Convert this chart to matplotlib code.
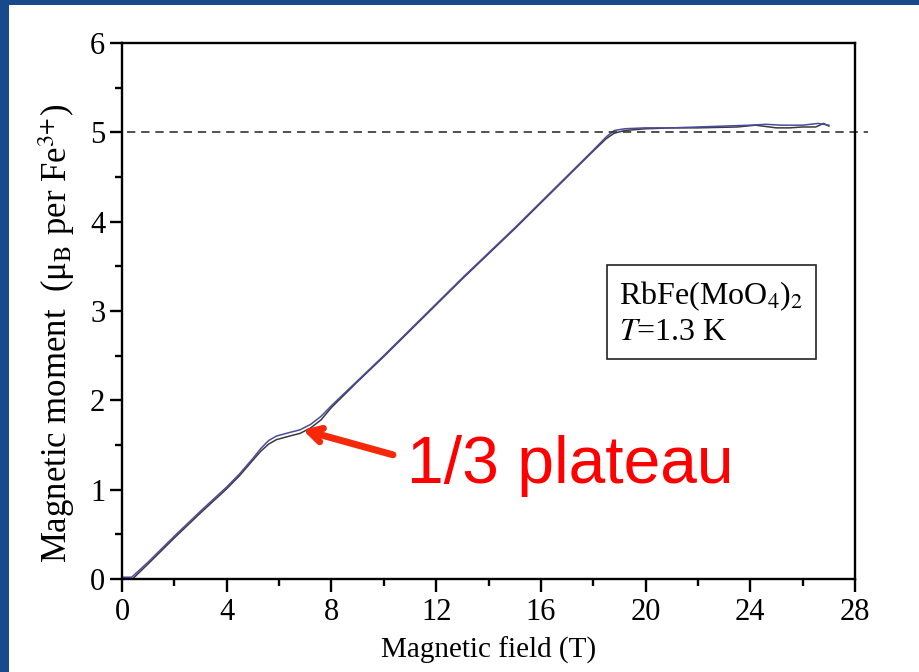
import matplotlib
matplotlib.use("Agg")
import matplotlib.pyplot as plt
from matplotlib.patches import Rectangle
from matplotlib.ticker import MultipleLocator

plt.rcParams['font.family'] = ['Liberation Serif', 'DejaVu Serif']
plt.rcParams['mathtext.fontset'] = 'stix'

# field sweep up (T, mu_B per Fe3+)
field_up = [0.0, 0.37, 1.0, 2.0, 3.0, 4.0, 4.5, 5.0, 5.3, 5.6, 5.9, 6.4, 6.8, 7.2, 7.6, 8.0,
            9.0, 10.0, 11.0, 12.0, 13.0, 14.0, 15.0, 16.0, 17.0, 18.0, 18.5, 18.8,
            19.2, 20.0, 21.0, 22.0, 23.0, 24.0, 24.6, 25.2, 26.0, 26.6, 27.0]
moment_up = [0.02, 0.02, 0.19, 0.48, 0.76, 1.03, 1.18, 1.35, 1.46, 1.55, 1.60, 1.64, 1.67, 1.73,
             1.82, 1.94, 2.22, 2.50, 2.79, 3.08, 3.37, 3.65, 3.93, 4.22, 4.51, 4.80, 4.95, 5.02,
             5.04, 5.05, 5.05, 5.06, 5.07, 5.08, 5.09, 5.08, 5.08, 5.10, 5.08]

# field sweep down
field_down = [27.0, 26.8, 26.5, 26.0, 25.5, 25.0, 24.2, 23.5, 22.0, 21.0, 20.0, 19.2, 18.8,
              18.5, 18.0, 17.0, 16.0, 15.0, 14.0, 13.0, 12.0, 11.0, 10.0, 9.0, 8.0, 7.6,
              7.2, 6.8, 6.4, 5.9, 5.6, 5.3, 5.0, 4.5, 4.0, 3.0, 2.0, 1.0, 0.4, 0.0]
moment_down = [5.07, 5.10, 5.06, 5.06, 5.05, 5.05, 5.08, 5.06, 5.05, 5.05, 5.04, 5.02, 4.99,
               4.93, 4.79, 4.50, 4.21, 3.92, 3.64, 3.36, 3.07, 2.78, 2.49, 2.21, 1.92, 1.78,
               1.69, 1.63, 1.60, 1.56, 1.51, 1.43, 1.33, 1.16, 1.01, 0.74, 0.46, 0.17, 0.0, 0.0]

saturation = 5.0
xticks = [0, 4, 8, 12, 16, 20, 24, 28]
yticks = [0, 1, 2, 3, 4, 5, 6]

fig = plt.figure(figsize=(9.19, 6.72), dpi=100)
fig.patch.set_facecolor('#174a8c')
# white slide panel behind the plot
fig.patches.append(Rectangle((9 / 919, 0), 1, 667 / 672, transform=fig.transFigure,
                             facecolor='white', edgecolor='none', zorder=-1))

ax = fig.add_axes([122 / 919, 93 / 672, 733 / 919, 536 / 672])
ax.set_facecolor('white')

ax.plot(field_down, moment_down, color='#3a3a3a', lw=1.1)
ax.plot(field_up, moment_up, color='#4b4ba0', lw=1.1)
ax.plot([0.2, 28.5], [saturation, saturation], color='#333333', lw=1.2,
        dashes=(5, 3.5), clip_on=False)

ax.set_xlim(0, 28)
ax.set_ylim(0, 6)
ax.set_xticks(xticks)
ax.set_yticks(yticks)
ax.xaxis.set_minor_locator(MultipleLocator(2))
ax.yaxis.set_minor_locator(MultipleLocator(0.5))
for s in ax.spines.values():
    s.set_linewidth(1.7)
ax.tick_params(which='both', direction='out', width=1.7, top=False, right=False)
ax.tick_params(which='major', length=9, labelsize=22)
ax.tick_params(which='minor', length=5)
ax.tick_params(axis='x', pad=5)
ax.tick_params(axis='y', pad=3)

ax.set_xlabel('Magnetic field (T)', fontsize=21, labelpad=7)
ax.set_ylabel('Magnetic moment  (μ$_\\mathrm{B}$ per Fe$^{3{+}}$)', fontsize=25)
ax.yaxis.set_label_coords(-0.061, 0.459)

ax.text(0.804, 0.496, 'RbFe(MoO$_4$)$_2$\n$T$=1.3 K', transform=ax.transAxes,
        fontsize=23, va='center', ha='center', multialignment='left', linespacing=1.25,
        bbox=dict(boxstyle='square,pad=0.38', facecolor='white', edgecolor='#222222', lw=1.2))

ax.annotate('', xy=(6.9, 1.67), xytext=(10.35, 1.39),
            arrowprops=dict(arrowstyle='->,head_length=0.9,head_width=0.5',
                            lw=5, color='#f5280a', shrinkA=0, shrinkB=0))
ax.text(10.9, 1.07, '1/3 plateau', fontsize=47.5, color='#ff0000',
        family='Liberation Sans', ha='left', va='baseline')

fig.savefig('out.png', dpi=100, facecolor=fig.get_facecolor())
